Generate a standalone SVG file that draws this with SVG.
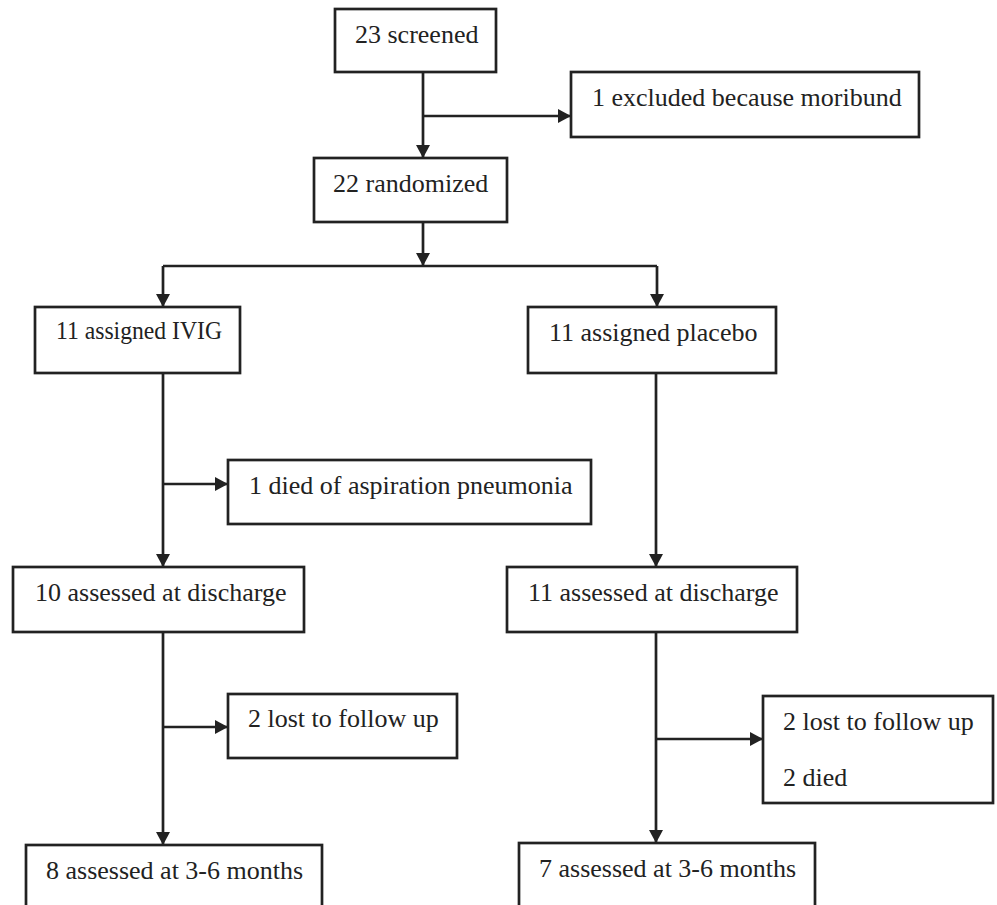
<svg xmlns="http://www.w3.org/2000/svg" width="997" height="905" viewBox="0 0 997 905">
<style>
.box{fill:#fff;stroke:#222;stroke-width:2.7}
.lbl{font-family:"Liberation Serif","Times New Roman",serif;font-size:26px;fill:#222}
.con{fill:none;stroke:#222;stroke-width:2.7}
</style>
<defs>
<marker id="ah" markerWidth="13" markerHeight="14" refX="13" refY="7" orient="auto" markerUnits="userSpaceOnUse">
<path d="M0,0 L13,7 L0,14 z" fill="#222"/>
</marker>
</defs>
<rect width="997" height="905" fill="#fff"/>
<g id="connectors">
<line class="con" x1="423" y1="72" x2="423" y2="158" marker-end="url(#ah)"/>
<line class="con" x1="423" y1="116" x2="571" y2="116" marker-end="url(#ah)"/>
<line class="con" x1="423" y1="222" x2="423" y2="266" marker-end="url(#ah)"/>
<line class="con" x1="163" y1="266" x2="657" y2="266"/>
<line class="con" x1="163" y1="266" x2="163" y2="307" marker-end="url(#ah)"/>
<line class="con" x1="657" y1="266" x2="657" y2="307" marker-end="url(#ah)"/>
<line class="con" x1="163" y1="373" x2="163" y2="567" marker-end="url(#ah)"/>
<line class="con" x1="163" y1="484" x2="228" y2="484" marker-end="url(#ah)"/>
<line class="con" x1="656" y1="373" x2="656" y2="567" marker-end="url(#ah)"/>
<line class="con" x1="163" y1="632" x2="163" y2="845" marker-end="url(#ah)"/>
<line class="con" x1="163" y1="727" x2="228" y2="727" marker-end="url(#ah)"/>
<line class="con" x1="656" y1="632" x2="656" y2="843" marker-end="url(#ah)"/>
<line class="con" x1="656" y1="739" x2="763" y2="739" marker-end="url(#ah)"/>
</g>
<g id="n-screened"><rect class="box" x="335" y="9" width="161" height="63"/><text class="lbl" x="355" y="43">23 screened</text></g>
<g id="n-excluded"><rect class="box" x="571" y="72" width="348" height="65"/><text class="lbl" x="592" y="106">1 excluded because moribund</text></g>
<g id="n-randomized"><rect class="box" x="314" y="158" width="193" height="64"/><text class="lbl" x="333" y="192">22 randomized</text></g>
<g id="n-ivig"><rect class="box" x="35" y="307" width="205" height="66"/><text class="lbl" x="56" y="339" textLength="166" lengthAdjust="spacingAndGlyphs">11 assigned IVIG</text></g>
<g id="n-placebo"><rect class="box" x="528" y="307" width="248" height="66"/><text class="lbl" x="549" y="341">11 assigned placebo</text></g>
<g id="n-died1"><rect class="box" x="228" y="460" width="363" height="64"/><text class="lbl" x="249" y="494">1 died of aspiration pneumonia</text></g>
<g id="n-dis10"><rect class="box" x="13" y="567" width="291" height="65"/><text class="lbl" x="35" y="601">10 assessed at discharge</text></g>
<g id="n-dis11"><rect class="box" x="507" y="567" width="290" height="65"/><text class="lbl" x="528" y="601">11 assessed at discharge</text></g>
<g id="n-lost1"><rect class="box" x="228" y="694" width="229" height="64"/><text class="lbl" x="248" y="727">2 lost to follow up</text></g>
<g id="n-lost2"><rect class="box" x="763" y="696" width="230" height="107"/><text class="lbl" x="783" y="730">2 lost to follow up</text><text class="lbl" x="783" y="786">2 died</text></g>
<g id="n-m8"><rect class="box" x="26" y="845" width="296" height="80"/><text class="lbl" x="46" y="879">8 assessed at 3-6 months</text></g>
<g id="n-m7"><rect class="box" x="519" y="843" width="296" height="80"/><text class="lbl" x="539" y="877">7 assessed at 3-6 months</text></g>
</svg>
